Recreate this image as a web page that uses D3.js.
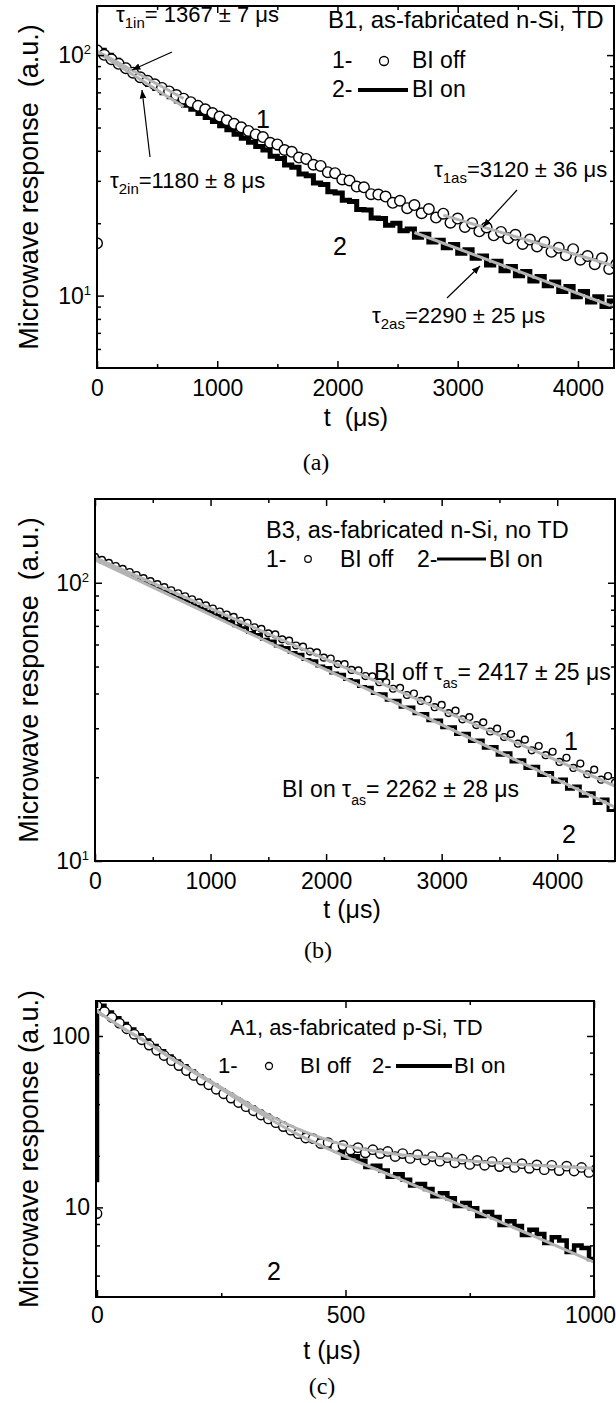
<!DOCTYPE html>
<html>
<head>
<meta charset="utf-8">
<script src="https://cdn.jsdelivr.net/npm/d3@7"></script>
<style>
  body { margin: 0; background: #fff; }
  svg text { font-family: "Liberation Sans", Arial, Helvetica, sans-serif; fill: #000; white-space: pre; }
</style>
</head>
<body>
<svg id="fig" width="616" height="1403"></svg>
<script>
// ---------- data ----------
// (a) B1, as-fabricated n-Si, TD  -- sampled every 60 us
var stepA = 60;
var offA = [104.7, 100.3, 96.1, 92.0, 88.2, 84.5, 80.9, 78.2, 75.6, 73.0, 70.6, 68.2, 65.9, 63.7, 61.5, 59.5, 57.4, 55.5, 53.6, 51.8, 50.1, 48.4, 46.8,
            45.6, 43.2, 42.5, 40.3, 39.6, 37.5, 37.0, 35.0, 34.6, 32.6, 32.3, 30.4, 30.1, 28.4, 28.2, 26.4, 26.3,
            25.8, 24.3, 24.8, 23.1, 23.8, 22.0, 22.9, 21.1, 21.9, 20.1, 20.9, 19.3, 20.0, 18.5,
            19.2, 17.8, 18.4, 17.3, 17.9, 16.4, 17.1, 16.0, 16.7, 15.2, 15.8, 14.7, 15.6, 14.1, 14.6, 13.5, 14.3, 12.9, 13.5];
var onA = [104.7, 99.8, 95.1, 90.7, 86.4, 82.4, 78.5, 75.5, 72.6, 69.7, 67.1, 64.4, 61.9, 59.5, 57.2, 55.0, 52.9, 50.8, 48.9, 46.9, 45.1, 43.4, 41.7,
           40.3, 38.0, 37.2, 34.9, 34.2, 32.0, 31.5, 29.4, 29.0, 27.0, 26.7, 24.9, 24.6, 22.8, 22.7, 21.0, 20.9,
           19.6, 20.0, 18.6, 18.9, 17.5, 18.0, 16.7, 17.0, 15.8, 16.3, 15.0, 15.5, 14.3, 14.6,
           13.4, 13.9, 12.7, 13.2, 12.1, 12.6, 11.5, 12.0, 11.0, 11.4, 10.4, 10.9, 9.9, 10.4, 9.4, 9.9, 9.0, 9.5, 8.6];
var offA0 = [16.5];               // stray first point at t = 0
var fitInT = [0, 720];
var fit1inA = [104, 66];
var fit2inA = [103, 61];
var fit1asT = [2880, 4320];
var fit1asA = [21.6, 13.2];
var fit2asT = [2640, 4320];
var fit2asA = [18.3, 8.9];

// (b) B3, as-fabricated n-Si, no TD  -- sampled every 60 us
var stepB = 60;
var offB = [123.9, 120.8, 117.8, 114.9, 112.1, 109.3, 106.6, 103.9, 101.4, 98.8, 96.4, 94.0, 91.7, 89.4, 87.2, 85.0, 82.9, 80.8, 78.8, 76.9,
            75.4, 73.0, 71.8, 69.2, 68.3, 65.8, 65.2, 62.6, 61.9, 59.5, 58.9, 56.6, 56.2, 53.8, 53.4, 51.0, 51.0, 48.6, 48.4, 46.2,
            46.1, 43.9, 43.9, 41.6, 41.9, 39.5, 40.0, 37.6, 38.0, 35.7, 36.4, 34.0, 34.7, 32.3, 32.9, 30.8, 31.5, 29.2, 29.9, 27.9,
            28.6, 26.4, 27.3, 25.0, 25.9, 24.0, 24.7, 22.7, 23.5, 21.6, 22.4, 20.5, 21.3, 19.6, 20.2, 19.1];
var onB = [122.5, 119.2, 115.9, 112.8, 109.7, 106.7, 103.8, 101.0, 98.2, 95.6, 93.0, 90.4, 88.0, 85.6, 83.2, 81.0, 78.8, 76.6, 74.5, 72.5,
           70.1, 68.9, 66.3, 65.2, 62.7, 61.8, 59.3, 58.5, 56.1, 55.3, 53.0, 52.4, 50.2, 49.6, 47.4, 46.9, 44.9, 44.4, 42.4, 42.1,
           40.0, 39.9, 37.8, 37.8, 35.7, 35.8, 33.8, 33.9, 31.9, 32.1, 30.1, 30.4, 28.5, 28.8, 26.9, 27.2, 25.4, 25.8, 24.0, 24.5,
           22.7, 23.1, 21.5, 21.9, 20.3, 20.8, 19.2, 19.7, 18.1, 18.6, 17.1, 17.6, 16.1, 16.7, 15.2, 15.6];
var fitBT = [0, 4500];
var fitOffB = [123, 18.6];
var fitOnB = [121, 15.6];

// (c) A1, as-fabricated p-Si, TD  -- sampled every 15 us
var stepC = 15;
var offC = [150, 138.6, 128.2, 118.8, 110.2, 102.3, 95.1, 88.5, 82.5, 76.9, 71.8, 67.2, 62.9, 58.9, 55.3, 51.9, 48.9, 46.0, 43.4, 40.9, 38.7, 36.6, 34.6, 32.8, 31.2, 29.6, 28.2, 26.9,
            25.4, 25.2, 23.6, 23.9, 22.5, 23.0, 21.6, 22.3, 20.8, 21.7, 20.6, 21.2, 19.8, 20.6, 19.3, 20.3, 18.9, 19.8, 18.6, 19.5, 18.2, 19.1,
            17.8, 18.8, 17.6, 18.5, 17.3, 18.2, 17.1, 18.0, 16.9, 17.7, 16.6, 17.6, 16.4, 17.4, 16.3, 17.1, 16.0, 16.8];
var onC = [150, 137, 127, 117.5, 109, 101, 94, 87.5, 81.5, 76, 71, 66.5, 62, 58.2, 54.6, 51.3, 48.3, 45.4, 42.8, 40.4, 38.2, 36.1, 34.2, 32.4, 30.8, 29.2, 27.8, 26.6,
           25.4, 24.6, 22.8, 22.6, 21.4, 19.5, 19.9, 18.7, 17.2, 17.5, 16.4, 15.1, 15.6, 14.5, 13.4, 13.7, 12.8, 11.6, 12.1, 11.3, 10.2, 10.6,
           9.9, 8.9, 9.4, 8.8, 7.9, 8.3, 7.8, 6.9, 7.4, 7.0, 6.2, 6.7, 6.4, 5.5, 6.0, 5.8, 5.0, 5.5];
var offC0 = [9.2];                // stray first point at t = 0
var onC0 = [14];                  // trace before the rise at t = 0
var fitCT = [0, 50, 100, 150, 200, 250, 300, 350, 400, 450, 500, 600, 700, 800, 900, 1000];
var fitOffC = [140, 112, 92, 74, 61, 50, 41, 34, 29, 25.5, 23, 20.5, 19.2, 18.2, 17.5, 16.9];
var fitOnC = [140, 112, 92, 74, 60, 49, 39.5, 32.5, 27, 23, 19.8, 15, 11.3, 8.5, 6.4, 4.8];

// ---------- drawing ----------
var svg = d3.select("#fig");
var sans = '"Liberation Sans", Arial, Helvetica, sans-serif';
var grey = "#b4b4b4";

svg.append("defs").append("marker")
    .attr("id", "arr")
    .attr("viewBox", "0 0 10 10")
    .attr("refX", 10).attr("refY", 5)
    .attr("markerWidth", 7).attr("markerHeight", 7)
    .attr("orient", "auto")
  .append("path")
    .attr("d", "M0,1 L10,5 L0,9 z")
    .attr("fill", "#000");

function pts(vals, step) {
    return vals.map(function(v, i) { return {t: i * step, v: v}; });
}
function pairs(ts, vs) {
    return ts.map(function(t, i) { return {t: t, v: vs[i]}; });
}

function rich(g, x, y, size, parts, anchor) {
    var t = g.append("text")
        .attr("x", x).attr("y", y)
        .attr("text-anchor", anchor || "start")
        .style("font-size", size + "px");
    parts.forEach(function(p) {
        var s = t.append("tspan").text(p[0]);
        if (p[1]) s.attr("dy", p[1]);
        if (p[2]) s.style("font-size", p[2] + "px");
    });
    return t;
}

function arrow(g, a, b) {
    g.append("line")
        .attr("x1", a[0]).attr("y1", a[1])
        .attr("x2", b[0]).attr("y2", b[1])
        .attr("stroke", "#000").attr("stroke-width", 1.2)
        .attr("marker-end", "url(#arr)");
}

function drawAxes(g, x, y, o) {
    var L = x.range()[0], R = x.range()[1], B = y.range()[0], T = y.range()[1];
    function clean(a) {
        a.select(".domain").remove();
        a.selectAll(".tick line").attr("stroke", "#000").attr("stroke-width", 1.5);
        a.selectAll("text").style("font-size", "23px").style("font-family", sans).attr("fill", "#000");
    }
    var bx = g.append("g").attr("transform", "translate(0," + B + ")")
        .call(d3.axisBottom(x).tickValues(o.xMajor).tickSize(-7).tickPadding(o.xPad).tickFormat(d3.format("d"))).call(clean);
    // keep the last label inside the page, as in the figure
    if (o.lastShift) bx.selectAll(".tick text").filter(function(d) { return d === o.xMajor[o.xMajor.length - 1]; })
        .attr("dx", o.lastShift);
    g.append("g").attr("transform", "translate(0," + B + ")")
        .call(d3.axisBottom(x).tickValues(o.xMinor).tickSize(-4).tickFormat("")).call(clean);
    g.append("g").attr("transform", "translate(0," + T + ")")
        .call(d3.axisTop(x).tickValues(o.xMajor).tickSize(-7).tickFormat("")).call(clean);
    g.append("g").attr("transform", "translate(0," + T + ")")
        .call(d3.axisTop(x).tickValues(o.xMinor).tickSize(-4).tickFormat("")).call(clean);
    g.append("g").attr("transform", "translate(" + L + ",0)")
        .call(d3.axisLeft(y).tickValues(o.yMajor).tickSize(-7).tickFormat("")).call(clean);
    g.append("g").attr("transform", "translate(" + L + ",0)")
        .call(d3.axisLeft(y).tickValues(o.yMinor).tickSize(-4).tickFormat("")).call(clean);
    g.append("g").attr("transform", "translate(" + R + ",0)")
        .call(d3.axisRight(y).tickValues(o.yMajor).tickSize(-7).tickFormat("")).call(clean);
    g.append("g").attr("transform", "translate(" + R + ",0)")
        .call(d3.axisRight(y).tickValues(o.yMinor).tickSize(-4).tickFormat("")).call(clean);

    // y tick labels
    o.yLabels.forEach(function(l) {
        var parts = [[l[1]]];
        if (l[2]) parts.push([l[2], -9, 13]);
        rich(g, L - 6, y(l[0]) + 8, 23, parts, "end");
    });

    g.append("rect")
        .attr("x", L).attr("y", T)
        .attr("width", R - L).attr("height", B - T)
        .attr("fill", "none").attr("stroke", "#000").attr("stroke-width", 2);

    g.append("text")
        .attr("transform", "translate(38," + (T + B) / 2 + ") rotate(-90)")
        .attr("text-anchor", "middle")
        .style("font-size", "27px")
        .text(o.yTitle);
    g.append("text")
        .attr("x", o.xTitleX).attr("y", o.xTitleY)
        .attr("text-anchor", "middle")
        .style("font-size", "25px")
        .text(o.xTitle);
    g.append("text")
        .attr("x", o.capX).attr("y", o.capY)
        .attr("text-anchor", "middle")
        .style("font-family", '"Liberation Serif", "Times New Roman", serif')
        .style("font-size", "24px")
        .text(o.caption);
}

function logMinor(lo, hi, mult) {
    var out = [];
    [1, 10, 100, 1000].forEach(function(d) {
        mult.forEach(function(m) {
            var v = m * d;
            if (v > lo && v < hi) out.push(v);
        });
    });
    return out;
}

function clipFor(id, x, y) {
    svg.select("defs").append("clipPath").attr("id", id)
      .append("rect")
        .attr("x", x.range()[0]).attr("y", y.range()[1])
        .attr("width", x.range()[1] - x.range()[0])
        .attr("height", y.range()[0] - y.range()[1]);
}

function drawData(g, x, y, on, off, fits, r, onW) {
    var line = d3.line().x(function(d) { return x(d.t); }).y(function(d) { return y(d.v); });
    g.append("path").datum(on)
        .attr("d", line.curve(d3.curveStepAfter))
        .attr("fill", "none").attr("stroke", "#000")
        .attr("stroke-width", onW).attr("stroke-linejoin", "miter");
    g.selectAll("circle.off").data(off).enter().append("circle")
        .attr("class", "off")
        .attr("cx", function(d) { return x(d.t); })
        .attr("cy", function(d) { return y(d.v); })
        .attr("r", r)
        .attr("fill", "#fff").attr("stroke", "#000").attr("stroke-width", 1.4);
    var fl = d3.line().x(function(d) { return x(d.t); }).y(function(d) { return y(d.v); }).curve(d3.curveMonotoneX);
    fits.forEach(function(f) {
        g.append("path").datum(f)
            .attr("d", fl)
            .attr("fill", "none").attr("stroke", grey).attr("stroke-width", 3);
    });
}

// ===== panel (a) =====
var xA = d3.scaleLinear().domain([0, 4300]).range([97, 614]);
var yA = d3.scaleLog().domain([5, 160]).range([368, 6]);
clipFor("clipA", xA, yA);
var gA = svg.append("g");
var dA = gA.append("g").attr("clip-path", "url(#clipA)");
drawData(dA, xA, yA, pts(onA, stepA),
    [{t: 0, v: offA0[0]}].concat(pts(offA, stepA)),
    [pairs(fitInT, fit1inA), pairs(fitInT, fit2inA), pairs(fit1asT, fit1asA), pairs(fit2asT, fit2asA)],
    5.3, 5);
drawAxes(gA, xA, yA, {
    xMajor: [0, 1000, 2000, 3000, 4000], xMinor: [500, 1500, 2500, 3500], xPad: 12,
    yMajor: [10, 100], yMinor: logMinor(5, 160, [2, 3, 4, 5, 6, 7, 8, 9]),
    yLabels: [[10, "10", "1"], [100, "10", "2"]],
    yTitle: "Microwave response  (a.u.)",
    xTitle: "t  (\u03bcs)", xTitleX: 356, xTitleY: 426,
    caption: "(a)", capX: 316, capY: 470
});
rich(gA, 328, 28, 24, [["B1, as-fabricated n-Si, TD"]]);
rich(gA, 332, 68, 23, [["1-"]]);
gA.append("circle").attr("cx", 384).attr("cy", 61).attr("r", 4.5)
    .attr("fill", "#fff").attr("stroke", "#000").attr("stroke-width", 1.3);
rich(gA, 412, 68, 23, [["BI off"]]);
rich(gA, 332, 97, 23, [["2-"]]);
gA.append("line").attr("x1", 358).attr("x2", 408).attr("y1", 90).attr("y2", 90)
    .attr("stroke", "#000").attr("stroke-width", 4);
rich(gA, 412, 97, 23, [["BI on"]]);
rich(gA, 116, 22, 22, [["\u03c4"], ["1in", 6, 15], ["= 1367 \u00b1 7 \u03bcs", -6]]);
rich(gA, 110, 188, 22, [["\u03c4"], ["2in", 6, 15], ["=1180 \u00b1 8 \u03bcs", -6]]);
rich(gA, 434, 177, 22, [["\u03c4"], ["1as", 6, 15], ["=3120 \u00b1 36 \u03bcs", -6]]);
rich(gA, 372, 323, 22, [["\u03c4"], ["2as", 6, 15], ["=2290 \u00b1 25 \u03bcs", -6]]);
rich(gA, 256, 128, 25, [["1"]]);
rich(gA, 333, 255, 25, [["2"]]);
arrow(gA, [172, 52], [132, 70]);
arrow(gA, [150, 157], [142, 90]);
arrow(gA, [517, 190], [483, 227]);
arrow(gA, [447, 298], [480, 266]);

// ===== panel (b) =====
var xB = d3.scaleLinear().domain([0, 4500]).range([95, 615]);
var yB = d3.scaleLog().domain([10, 200]).range([861, 499]);
clipFor("clipB", xB, yB);
var gB = svg.append("g");
var dB = gB.append("g").attr("clip-path", "url(#clipB)");
drawData(dB, xB, yB, pts(onB, stepB), pts(offB, stepB),
    [pairs(fitBT, fitOffB), pairs(fitBT, fitOnB)], 3.4, 3);
drawAxes(gB, xB, yB, {
    xMajor: [0, 1000, 2000, 3000, 4000], xMinor: [500, 1500, 2500, 3500], xPad: 12,
    yMajor: [10, 100], yMinor: logMinor(10, 200, [2, 3, 4, 5, 6, 7, 8, 9]),
    yLabels: [[10, "10", "1"], [100, "10", "2"]],
    yTitle: "Microwave response  (a.u.)",
    xTitle: "t (\u03bcs)", xTitleX: 352, xTitleY: 918,
    caption: "(b)", capX: 318, capY: 958
});
rich(gB, 266, 538, 23.5, [["B3, as-fabricated n-Si, no TD"]]);
rich(gB, 266, 567, 23, [["1-"]]);
gB.append("circle").attr("cx", 308).attr("cy", 559).attr("r", 3.3)
    .attr("fill", "#fff").attr("stroke", "#000").attr("stroke-width", 1.2);
rich(gB, 340, 567, 23, [["BI off"]]);
rich(gB, 417, 567, 23, [["2-"]]);
gB.append("line").attr("x1", 437).attr("x2", 486).attr("y1", 559).attr("y2", 559)
    .attr("stroke", "#000").attr("stroke-width", 2.8);
rich(gB, 489, 567, 23, [["BI on"]]);
rich(gB, 374, 680, 23, [["BI off \u03c4"], ["as", 8, 14], ["= 2417 \u00b1 25 \u03bcs", -8]]);
rich(gB, 282, 797, 23, [["BI on \u03c4"], ["as", 8, 14], ["= 2262 \u00b1 28 \u03bcs", -8]]);
rich(gB, 564, 750, 25, [["1"]]);
rich(gB, 562, 843, 25, [["2"]]);

// ===== panel (c) =====
var xC = d3.scaleLinear().domain([-2, 1000]).range([96, 594]);
var yC = d3.scaleLog().domain([3, 160]).range([1297, 1001]);
clipFor("clipC", xC, yC);
var gC = svg.append("g");
var dC = gC.append("g").attr("clip-path", "url(#clipC)");
drawData(dC, xC, yC,
    [{t: 0, v: onC0[0]}].concat(pts(onC, stepC)),
    [{t: 0, v: offC0[0]}].concat(pts(offC, stepC)),
    [pairs(fitCT, fitOffC), pairs(fitCT, fitOnC)], 4.7, 4.5);
drawAxes(gC, xC, yC, {
    xMajor: [0, 500, 1000], xMinor: [250, 750], xPad: 10, lastShift: -4,
    yMajor: [10, 100], yMinor: logMinor(3, 160, [2, 4, 6, 8]),
    yLabels: [[10, "10"], [100, "100"]],
    yTitle: "Microwave response (a.u.)",
    xTitle: "t (\u03bcs)", xTitleX: 332, xTitleY: 1359,
    caption: "(c)", capX: 322, capY: 1394
});
rich(gC, 230, 1035, 22, [["A1, as-fabricated p-Si, TD"]]);
rich(gC, 218, 1073, 22, [["1-"]]);
gC.append("circle").attr("cx", 269).attr("cy", 1066).attr("r", 3.5)
    .attr("fill", "#fff").attr("stroke", "#000").attr("stroke-width", 1.3);
rich(gC, 300, 1073, 22, [["BI off"]]);
rich(gC, 372, 1073, 22, [["2-"]]);
gC.append("line").attr("x1", 396).attr("x2", 452).attr("y1", 1066).attr("y2", 1066)
    .attr("stroke", "#000").attr("stroke-width", 4);
rich(gC, 454, 1073, 22, [["BI on"]]);
rich(gC, 267, 1280, 25, [["2"]]);
</script>
</body>
</html>
